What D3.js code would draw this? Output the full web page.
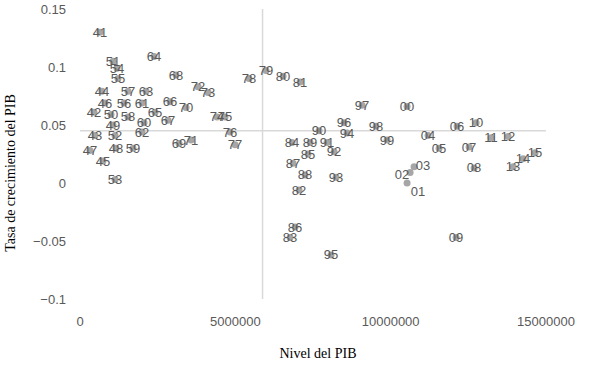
<!DOCTYPE html>
<html lang="es">
<head>
<meta charset="utf-8">
<style>
  body { margin: 0; background: white; }
  svg { background: white; display: block; }
  .tick-label { font-family: "Liberation Sans", Arial, sans-serif; font-size: 13px; fill: #595959; }
  .pt-label { font-family: "Liberation Sans", Arial, sans-serif; font-size: 13px; fill: #595959; }
  .axis-title { font-family: "Liberation Serif", "Times New Roman", serif; font-size: 14px; fill: #000; }
  .cross { stroke: #d9d9d9; stroke-width: 1.5; }
  .dot { fill: #a6a6a6; }
</style>
<script src="https://cdn.jsdelivr.net/npm/d3@7"></script>
</head>
<body>
<script>
// years (labels), PIB level and growth rate
var years = ["41","42","43","44","45","46","47","48","49","50",
             "51","52","53","54","55","56","57","58","59","60",
             "61","62","63","64","65","66","67","68","69","70",
             "71","72","73","74","75","76","77","78","79","80",
             "81","82","83","84","85","86","87","88","89","90",
             "91","92","93","94","95","96","97","98","99","00",
             "01","02","03","04","05","06","07","08","09","10",
             "11","12","13","14","15"];

var nivel = [644000, 451000, 483000, 708000, 740000, 805000, 322000, 1159000, 1062000, 998000,
             1062000, 1127000, 1127000, 1191000, 1223000, 1417000, 1545000, 1545000, 1706000, 2061000,
             1996000, 1996000, 2125000, 2383000, 2415000, 2898000, 2833000, 3091000, 3187000, 3413000,
             3574000, 3799000, 4121000, 4411000, 4668000, 4829000, 4990000, 5441000, 5988000, 6536000,
             7083000, 7051000, 6761000, 6826000, 7341000, 6922000, 6858000, 7244000, 7405000, 7695000,
             7952000, 8178000, 8242000, 8596000, 8081000, 8500000, 9079000, 9530000, 9884000, 10528000,
             10528000, 10625000, 10753000, 11204000, 11558000, 12138000, 12524000, 12685000, 12106000, 12750000,
             13233000, 13780000, 13941000, 14263000, 14649000];

var tasa = [0.130, 0.061, 0.041, 0.079, 0.019, 0.069, 0.028, 0.030, 0.050, 0.059,
            0.105, 0.041, 0.003, 0.099, 0.090, 0.069, 0.079, 0.057, 0.030, 0.052,
            0.069, 0.044, 0.079, 0.109, 0.061, 0.070, 0.054, 0.093, 0.034, 0.065,
            0.037, 0.083, 0.078, 0.057, 0.057, 0.044, 0.033, 0.090, 0.097, 0.092,
            0.087, -0.006, -0.047, 0.035, 0.025, -0.038, 0.017, 0.007, 0.035, 0.045,
            0.035, 0.027, 0.005, 0.043, -0.062, 0.052, 0.067, 0.049, 0.037, 0.066,
            0.000, 0.009, 0.014, 0.041, 0.030, 0.049, 0.031, 0.013, -0.047, 0.052,
            0.039, 0.040, 0.014, 0.021, 0.026];

var xTicks = [0, 5000000, 10000000, 15000000];
var yTicks = [-0.1, -0.05, 0, 0.05, 0.1, 0.15];

// where the axes cross each other (excel style)
var crossX = 5876000;
var crossY = 0.045;

// labels that were moved off their dot
var labelShift = { "01": [11, 8], "02": [-8, 2], "03": [9, -1] };

var width = 614, height = 365;

var x = d3.scaleLinear().domain([0, 15000000]).range([80, 546]);
var y = d3.scaleLinear().domain([-0.1, 0.15]).range([299, 9]);

var svg = d3.select("body").append("svg")
    .attr("width", width)
    .attr("height", height);

// crossing lines
svg.append("line").attr("class", "cross")
    .attr("x1", x(0)).attr("x2", x(15000000))
    .attr("y1", y(crossY)).attr("y2", y(crossY));
svg.append("line").attr("class", "cross")
    .attr("x1", x(crossX)).attr("x2", x(crossX))
    .attr("y1", y(0.15)).attr("y2", y(-0.1));

// tick labels
svg.selectAll(".ytick").data(yTicks).enter().append("text")
    .attr("class", "tick-label")
    .attr("x", 66)
    .attr("y", function(d) { return y(d); })
    .attr("dy", "0.35em")
    .attr("text-anchor", "end")
    .text(function(d) { return d3.format("")(+d.toFixed(2)); });

svg.selectAll(".xtick").data(xTicks).enter().append("text")
    .attr("class", "tick-label")
    .attr("x", function(d) { return x(d); })
    .attr("y", 321)
    .attr("dy", "0.35em")
    .attr("text-anchor", "middle")
    .text(function(d) { return d; });

// titles
svg.append("text").attr("class", "axis-title")
    .attr("x", 318).attr("y", 358)
    .attr("text-anchor", "middle")
    .text("Nivel del PIB");

svg.append("text").attr("class", "axis-title")
    .attr("transform", "translate(15,173) rotate(-90)")
    .attr("text-anchor", "middle")
    .text("Tasa de crecimiento del PIB");

var data = years.map(function(yr, i) { return { yr: yr, n: nivel[i], t: tasa[i] }; });

svg.selectAll(".dot").data(data).enter().append("circle")
    .attr("class", "dot")
    .attr("cx", function(d) { return x(d.n); })
    .attr("cy", function(d) { return y(d.t); })
    .attr("r", 3.5);

svg.selectAll(".pt-label").data(data).enter().append("text")
    .attr("class", "pt-label")
    .attr("x", function(d) { return x(d.n) + (labelShift[d.yr] ? labelShift[d.yr][0] : 0); })
    .attr("y", function(d) { return y(d.t) + (labelShift[d.yr] ? labelShift[d.yr][1] : 0); })
    .attr("dy", "0.35em")
    .attr("text-anchor", "middle")
    .text(function(d) { return d.yr; });
</script>
</body>
</html>
